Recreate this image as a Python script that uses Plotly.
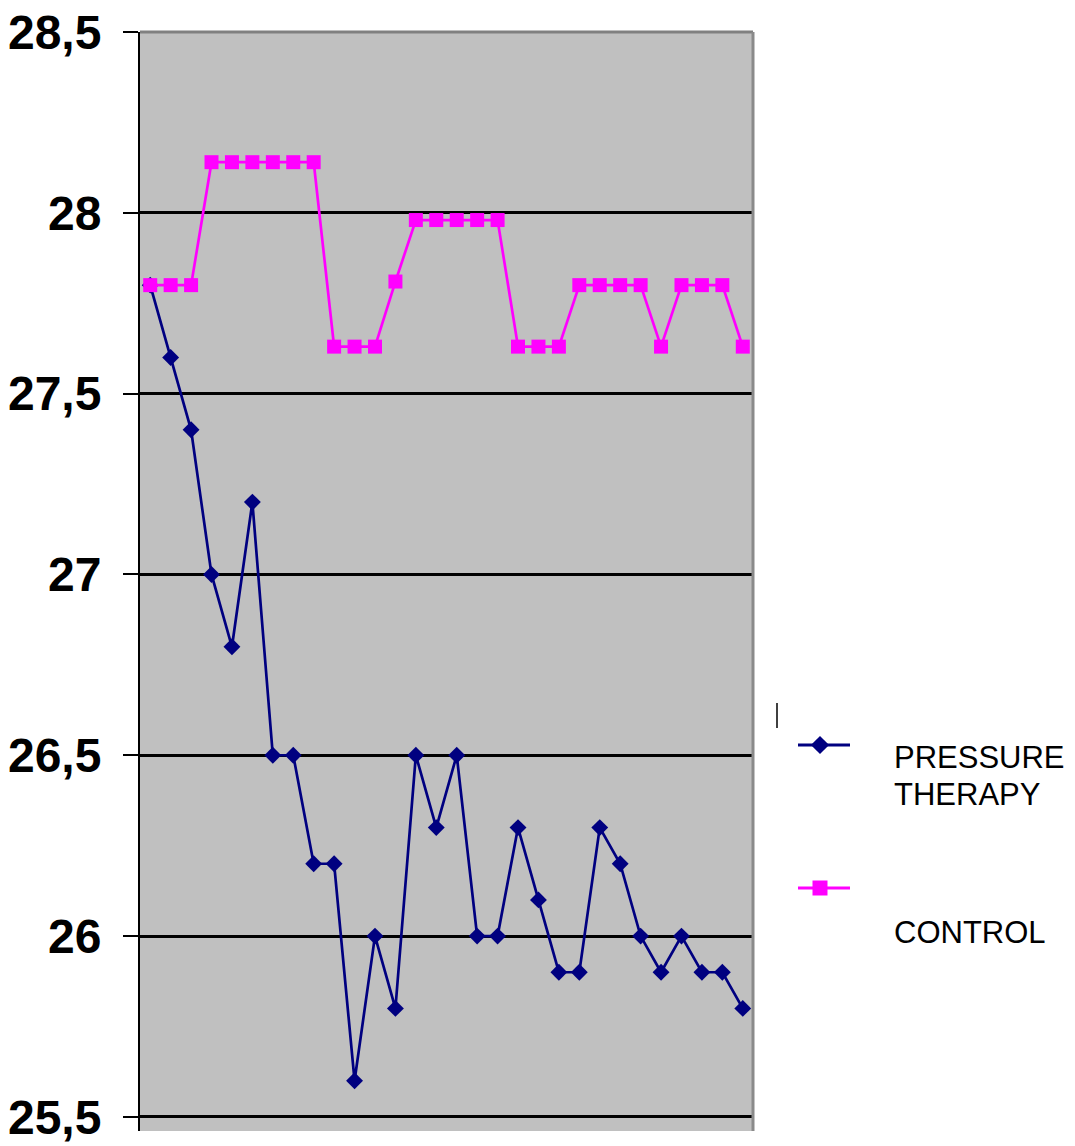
import plotly.graph_objects as go

# ---------------- data ----------------
days = list(range(1, 31))
pressure_therapy = [27.8, 27.6, 27.4, 27.0, 26.8, 27.2, 26.5, 26.5, 26.2, 26.2,
                    25.6, 26.0, 25.8, 26.5, 26.3, 26.5, 26.0, 26.0, 26.3, 26.1,
                    25.9, 25.9, 26.3, 26.2, 26.0, 25.9, 26.0, 25.9, 25.9, 25.8]
control = [27.8, 27.8, 27.8, 28.14, 28.14, 28.14, 28.14, 28.14, 28.14, 27.63,
           27.63, 27.63, 27.81, 27.98, 27.98, 27.98, 27.98, 27.98, 27.63, 27.63,
           27.63, 27.8, 27.8, 27.8, 27.8, 27.63, 27.8, 27.8, 27.8, 27.63]
y_tick_values = [25.5, 26, 26.5, 27, 27.5, 28, 28.5]
y_tick_labels = ["25,5", "26", "26,5", "27", "27,5", "28", "28,5"]
series_names = ["PRESSURE THERAPY", "CONTROL"]

NAVY = "#000080"
MAGENTA = "#FF00FF"
BG = "#C0C0C0"
OFF = 8  # page body margin offset
W, H = 1075 - OFF, 1146 - OFF
ML, MR, MT, MB = 140 - OFF, 0, 32 - OFF, 15
PW = W - ML - MR
main_frac = (753 - 140) / PW

fig = go.Figure()

fig.add_trace(go.Scatter(
    x=days, y=pressure_therapy, mode="lines+markers", name=series_names[0],
    line=dict(color=NAVY, width=2.7),
    marker=dict(symbol="diamond", size=13, color=NAVY),
    showlegend=False, xaxis="x", yaxis="y"))
fig.add_trace(go.Scatter(
    x=days, y=control, mode="lines+markers", name=series_names[1],
    line=dict(color=MAGENTA, width=2.7),
    marker=dict(symbol="square", size=14, color=MAGENTA),
    showlegend=False, xaxis="x", yaxis="y"))

# ---- legend samples (drawn manually on a helper axis in page-pixel units) ----
legend_rows = [
    dict(y=745, color=NAVY, symbol="diamond", size=14, text_lines=[("PRESSURE", 757.5), ("THERAPY", 794)]),
    dict(y=888, color=MAGENTA, symbol="square", size=15, text_lines=[("CONTROL", 932.5)]),
]
for row in legend_rows:
    fig.add_trace(go.Scatter(
        x=[798, 850], y=[row["y"], row["y"]], mode="lines",
        line=dict(color=row["color"], width=3), showlegend=False,
        hoverinfo="skip", xaxis="x2", yaxis="y2"))
    fig.add_trace(go.Scatter(
        x=[820], y=[row["y"]], mode="markers",
        marker=dict(symbol=row["symbol"], size=row["size"], color=row["color"]),
        showlegend=False, hoverinfo="skip", xaxis="x2", yaxis="y2"))
    for txt, ty in row["text_lines"]:
        fig.add_annotation(x=892, y=ty, xref="x2", yref="y2", text=txt,
                           showarrow=False, xanchor="left", yanchor="middle",
                           font=dict(family="Liberation Sans, Arial, sans-serif",
                                     size=31, color="black"))

shapes = [
    # gray plot background
    dict(type="rect", xref="x domain", yref="y domain", x0=0, x1=1, y0=0, y1=1,
         fillcolor=BG, line=dict(width=0), layer="below"),
    # top border
    dict(type="line", xref="x domain", yref="y domain", x0=0, x1=1, y0=1, y1=1,
         line=dict(color="#808080", width=3), layer="above"),
    # right border
    dict(type="line", xref="x domain", yref="y domain", x0=1, x1=1, y0=0, y1=1,
         line=dict(color="#8a8a8a", width=3), layer="above"),
    # small stray mark near legend
    dict(type="line", xref="x2", yref="y2", x0=777, x1=777, y0=703, y1=728,
         line=dict(color="black", width=1.5)),
]

fig.update_layout(
    width=W, height=H,
    margin=dict(l=ML, r=MR, t=MT, b=MB, pad=0, autoexpand=False),
    paper_bgcolor="white", plot_bgcolor="rgba(0,0,0,0)",
    shapes=shapes,
    xaxis=dict(domain=[0, main_frac], range=[0.5, 30.5], showgrid=False,
               zeroline=False, showticklabels=False, ticks="", showline=False,
               automargin=False),
    yaxis=dict(range=[25.461, 28.5], tickvals=y_tick_values, ticktext=y_tick_labels,
               showgrid=True, gridcolor="black", gridwidth=3, zeroline=False,
               showline=True, linecolor="black", linewidth=2,
               ticks="outside", ticklen=15, tickwidth=2, tickcolor="black",
               ticklabelstandoff=12, automargin=False, ticklabeloverflow="allow",
               tickfont=dict(family="Liberation Sans, Arial, sans-serif",
                             size=48, color="black", weight="bold")),
    xaxis2=dict(domain=[main_frac, 1], range=[753, 1075], visible=False, fixedrange=True),
    yaxis2=dict(domain=[0, 1], range=[1131, 32], visible=False, fixedrange=True,
                anchor="x2"),
)

fig.write_html("out.html")
